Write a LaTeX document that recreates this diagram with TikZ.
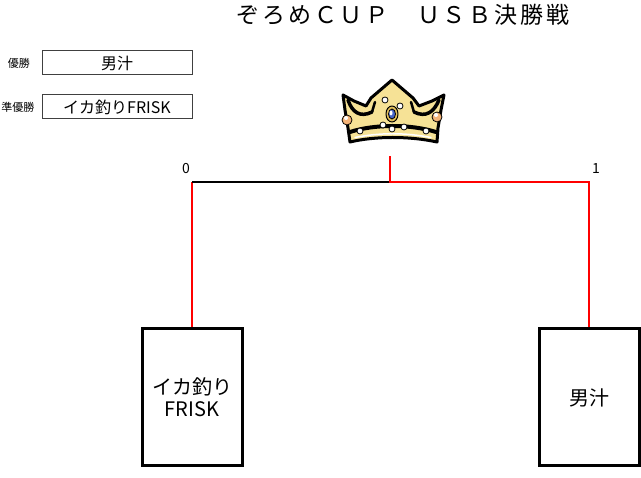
\documentclass[tikz,border=0pt]{standalone}
\usepackage{fontspec}
\setmainfont{Noto Sans CJK JP}
\newfontfamily\titlefont[LetterSpace=12]{Noto Sans CJK JP}
\definecolor{crowngold}{RGB}{246,226,150}
\definecolor{ringgold}{RGB}{225,190,90}
\definecolor{jewelblue}{RGB}{70,100,200}
\definecolor{pearlorange}{RGB}{245,180,120}
\begin{document}
\begin{tikzpicture}[x=1pt,y=-1pt,
  smallbox/.style={draw=black!75, line width=1pt, minimum width=150pt, minimum height=24pt, inner sep=0pt, font=\fontsize{16}{16}\selectfont},
  teambox/.style={draw=black, line width=3pt, minimum width=100pt, minimum height=137pt, inner sep=0pt, align=center, font=\fontsize{20}{22}\selectfont},
  tag/.style={inner sep=0pt, font=\fontsize{11}{11}\selectfont},
  score/.style={inner sep=0pt, font=\fontsize{14}{14}\selectfont},
  winline/.style={draw=red, line width=2pt},
  loseline/.style={draw=black, line width=2pt},
  pearl/.style={fill=white, draw=black, line width=0.8pt}]
\useasboundingbox (0,0) rectangle (641,478);
% title
\node[inner sep=0pt, font=\titlefont\fontsize{23}{23}\selectfont] (title) at (403,15) {ぞろめＣＵＰ　ＵＳＢ決勝戦};
% result boxes
\node[tag] (lwin) at (19,63) {優勝};
\node[smallbox] (win) at (117,63) {男汁};
\node[tag] (lsec) at (18,107) {準優勝};
\node[smallbox] (sec) at (117,107) {イカ釣りFRISK};
% team boxes
\node[teambox] (L) at (192,397.5) {イカ釣り\\FRISK};
\node[teambox] (R) at (589,397.5) {男汁};
% bracket
\coordinate (lc) at (192,182);
\coordinate (rc) at (589,182);
\coordinate (top) at (390,182);
\coordinate (crown) at (390,156);
\draw[winline] (L.north) -- (lc);
\draw[loseline] (lc) -- (top);
\draw[winline] (R.north) -- (rc) -- (top) -- (crown);
\node[score] (s0) at (186,169) {0};
\node[score] (s1) at (596,169) {1};
% crown
\begin{scope}[line join=round, line cap=round]
\filldraw[fill=crowngold, draw=black, line width=3pt]
  (343,95) -- (354,101) -- (366,106) -- (371,98) -- (392,80) -- (413,98) -- (419,106) -- (432,101) -- (444,95)
  -- (441,110) -- (438,128) -- (437,142) .. controls (410,136) and (375,136) .. (350,142) -- (348,128) -- (345,110) -- cycle;
\draw[black, line width=3.5pt] (348,100) .. controls (352,112) and (360,118) .. (372,112);
\draw[black, line width=3.5pt] (439,100) .. controls (434,112) and (426,118) .. (414,112);
\draw[black, line width=2.5pt] (372,112) -- (375,102);
\draw[black, line width=2.5pt] (414,112) -- (411,102);
\draw[black, line width=4pt] (350,132) .. controls (375,124) and (410,124) .. (436,132);
\draw[white, line width=1.5pt] (355,137.5) .. controls (380,132.5) and (405,132.5) .. (431,137.5);
\filldraw[fill=ringgold, draw=black, line width=1pt] (392,114) ellipse (6 and 8);
\filldraw[fill=jewelblue, draw=black, line width=0.8pt] (392,114) ellipse (3.5 and 5);
\fill[white] (391,113) ellipse (1.5 and 2.5);
\filldraw[pearl] (400,106) circle (3);
\filldraw[pearl] (385,100) circle (3);
\filldraw[pearl] (383,125) circle (3);
\filldraw[pearl] (392,129) circle (3);
\filldraw[pearl] (404,127) circle (3);
\filldraw[pearl] (360,131) circle (3);
\filldraw[pearl] (426,131) circle (3);
\filldraw[fill=pearlorange, draw=black, line width=0.8pt] (347,120) circle (5);
\filldraw[fill=pearlorange, draw=black, line width=0.8pt] (437,117) circle (5);
\fill[white] (346,118) circle (2);
\fill[white] (436,115) circle (2);
\end{scope}
\end{tikzpicture}
\end{document}
